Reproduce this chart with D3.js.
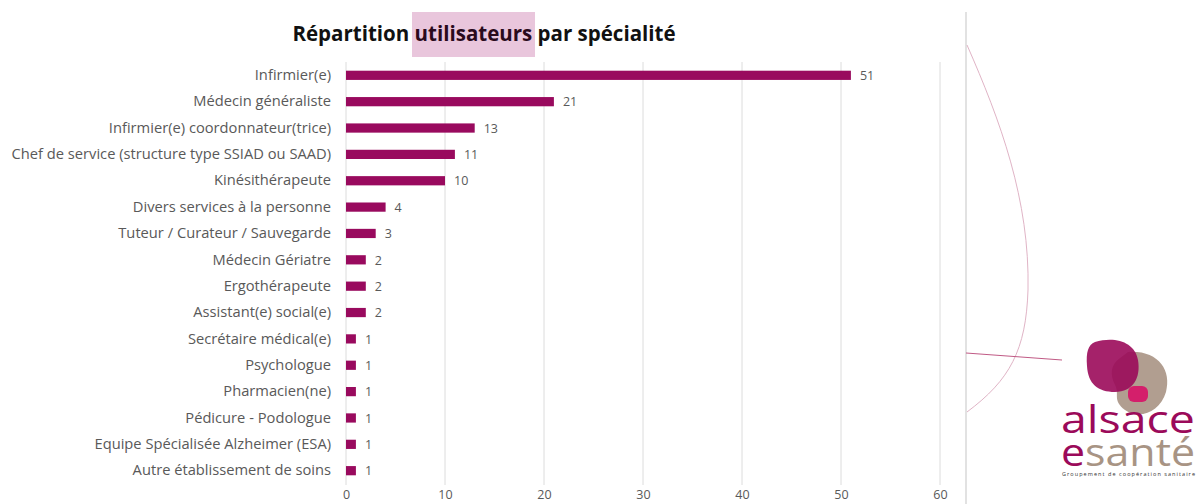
<!DOCTYPE html>
<html>
<head>
<meta charset="utf-8">
<script src="https://cdnjs.cloudflare.com/ajax/libs/d3/7.8.5/d3.min.js"></script>
<style>
body { margin: 0; background: #fff; }
svg { display: block; font-family: "Open Sans", Arial, sans-serif; }
</style>
</head>
<body>
<div id="chart"></div>
<script>
// data
var categories = ["Infirmier(e)", "Médecin généraliste", "Infirmier(e) coordonnateur(trice)",
  "Chef de service (structure type SSIAD ou SAAD)", "Kinésithérapeute", "Divers services à la personne",
  "Tuteur / Curateur / Sauvegarde", "Médecin Gériatre", "Ergothérapeute", "Assistant(e) social(e)",
  "Secrétaire médical(e)", "Psychologue", "Pharmacien(ne)", "Pédicure - Podologue",
  "Equipe Spécialisée Alzheimer (ESA)", "Autre établissement de soins"];
var values = [51, 21, 13, 11, 10, 4, 3, 2, 2, 2, 1, 1, 1, 1, 1, 1];
var xTicks = [0, 10, 20, 30, 40, 50, 60];

var W = 1196, H = 504;
var svg = d3.select("#chart").append("svg").attr("width", W).attr("height", H);

// title with highlighted word
svg.append("rect").attr("x", 412).attr("y", 12).attr("width", 123).attr("height", 45)
  .attr("fill", "#e9c6dc");
var title = svg.append("text").attr("x", 484).attr("y", 41).attr("text-anchor", "middle")
  .style("font-size", "20.5px").style("font-weight", "bold").attr("fill", "#111");
title.append("tspan").text("Répartition ");
title.append("tspan").attr("fill", "#2a0a1c").text("utilisateurs");
title.append("tspan").text(" par spécialité");

var x = d3.scaleLinear().domain([0, 60]).range([346, 940]);
var y = d3.scaleBand().domain(categories).range([62, 484]).paddingInner(0.65).paddingOuter(0.33);

// gridlines
svg.append("g").selectAll("line").data(xTicks).join("line")
  .attr("x1", d => x(d)).attr("x2", d => x(d))
  .attr("y1", 62).attr("y2", 485)
  .attr("stroke", "#dcdcdc").attr("stroke-width", 1);

// x axis labels
var xAxis = svg.append("g").attr("transform", "translate(0,485)")
  .call(d3.axisBottom(x).tickValues(xTicks).tickSize(0).tickPadding(5));
xAxis.select(".domain").remove();
xAxis.selectAll("text").style("font-size", "12.5px").attr("fill", "#595959")
  .style("font-family", "'Open Sans', Arial, sans-serif");

// category labels
var yAxis = svg.append("g").attr("transform", "translate(334,0)")
  .call(d3.axisLeft(y).tickSize(0).tickPadding(3));
yAxis.select(".domain").remove();
yAxis.selectAll("text").style("font-size", "14.7px").attr("fill", "#595959")
  .style("font-family", "'Open Sans', Arial, sans-serif");

// bars
svg.append("g").selectAll("rect").data(values).join("rect")
  .attr("x", x(0))
  .attr("y", (d, i) => y(categories[i]))
  .attr("width", d => x(d) - x(0))
  .attr("height", y.bandwidth())
  .attr("fill", "#990a5e");

// value labels
svg.append("g").selectAll("text").data(values).join("text")
  .attr("x", d => x(d) + 9)
  .attr("y", (d, i) => y(categories[i]) + y.bandwidth() / 2)
  .attr("dy", "0.38em")
  .style("font-size", "12.5px").attr("fill", "#595959")
  .text(d => d);

// decoration on the right side
svg.append("line").attr("x1", 966).attr("x2", 966).attr("y1", 12).attr("y2", 504)
  .attr("stroke", "#d8d8d8").attr("stroke-width", 1.5);
svg.append("path")
  .attr("d", "M967,45 C1000,120 1030,200 1028,290 C1026,350 1010,380 967,412")
  .attr("fill", "none").attr("stroke", "#e0b4c6").attr("stroke-width", 1);
svg.append("path")
  .attr("d", "M966,353 L1062,360")
  .attr("fill", "none").attr("stroke", "#c05a85").attr("stroke-width", 1);

// logo
var logo = svg.append("g");
logo.append("path")
  .attr("d", "M1128,352 C1158,350 1172,370 1166,392 C1160,412 1140,420 1125,410 C1112,400 1120,395 1115,385 C1110,375 1110,365 1120,358 Z")
  .attr("fill", "#a89484").attr("opacity", 0.9);
logo.append("path")
  .attr("d", "M1095,342 C1115,336 1135,342 1138,360 C1141,378 1133,392 1115,392 C1098,392 1088,384 1087,366 C1086,352 1088,345 1095,342 Z")
  .attr("fill", "#9b0a5a").attr("opacity", 0.9);
logo.append("rect").attr("x", 1128).attr("y", 386).attr("width", 20).attr("height", 16).attr("rx", 6)
  .attr("fill", "#d41f6b");
logo.append("text").attr("x", 1061).attr("y", 433)
  .style("font-size", "38px").style("font-family", "'Open Sans', Arial, sans-serif").attr("fill", "#9b0a5a")
  .attr("textLength", 134).attr("lengthAdjust", "spacingAndGlyphs").text("alsace");
var es = logo.append("text").attr("x", 1061).attr("y", 466)
  .style("font-size", "38px").style("font-family", "'Open Sans', Arial, sans-serif")
  .attr("textLength", 134).attr("lengthAdjust", "spacingAndGlyphs");
es.append("tspan").attr("fill", "#9b0a5a").text("e");
es.append("tspan").attr("fill", "#a89484").text("santé");
logo.append("text").attr("x", 1062).attr("y", 476)
  .style("font-size", "5.5px").attr("fill", "#333").attr("textLength", 133)
  .text("Groupement de coopération sanitaire");
</script>
</body>
</html>
